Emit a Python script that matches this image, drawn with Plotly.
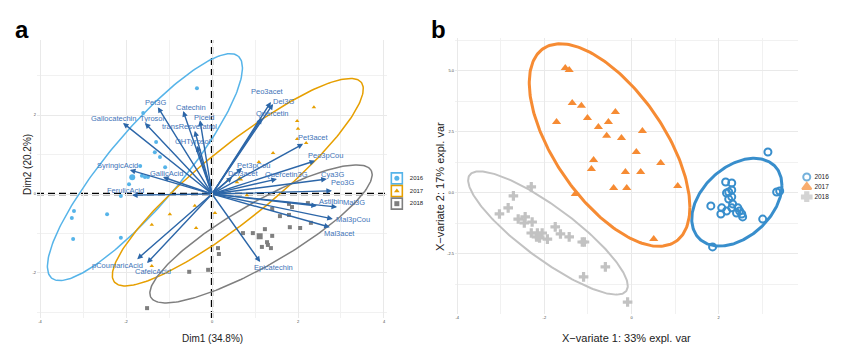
import numpy as np
import plotly.graph_objects as go

# ---------------- data : panel a (PCA biplot) ----------------
years = ["2016", "2017", "2018"]

a2016_x = [-0.35, -1.60, -1.30, -1.21, -1.33, -1.67, -1.63, -1.56, -1.49, -1.09, -1.93, -2.12, -3.21, -3.26, -2.44, -3.23, -2.12]
a2016_y = [2.68, 2.05, 1.32, 0.94, 1.06, 0.71, 0.46, 0.43, 0.43, 0.68, 0.25, -0.05, -0.43, -0.61, -0.51, -1.14, -1.11]

a2017_x = [2.37, 1.98, 2.00, 1.98, 2.19, 1.42, 1.09, 0.58, 0.37, 0.81, 0.07, -0.40, -0.98, -1.40, -0.37, -1.40]
a2017_y = [2.20, 1.85, 1.65, 1.39, 1.29, 1.04, 0.81, 0.30, 0.35, -0.03, -0.48, -0.30, -0.51, -0.78, -0.86, -1.82]

a2018_x = [1.79, 1.86, 2.23, 1.40, 1.58, 1.79, 0.72, 0.95, 1.40, 1.23, 1.28, 1.30, 1.16, 1.37, 1.81, 2.05, 2.30, 0.14, 0.16, -0.09, -0.53, -1.51]
a2018_y = [-0.25, -0.33, -0.23, -0.38, -0.56, -0.53, -0.99, -0.99, -1.06, -0.89, -1.22, -1.29, -1.34, -1.37, -0.84, -0.86, -0.73, -1.37, -1.52, -1.92, -1.97, -2.89]

# concentration ellipses of panel a read from the picture:
# centre and two conjugate semi-diameters (data units)
ell_cx = [-1.56, 0.60, 1.14]
ell_cy = [0.68, 0.30, -1.01]
ell_ux = [2.17, 2.87, 2.56]
ell_uy = [2.81, 2.53, 1.61]
ell_vx = [-0.66, -0.53, -0.36]
ell_vy = [0.60, 0.71, 0.68]

var_names = ["Pet3G", "Catechin", "Piceid", "Gallocatechin", "Tyrosol", "transResveratrol", "OHTyrosol",
             "SyringicAcid", "GallicAcid", "FerulicAcid", "pCoumaricAcid", "CafeicAcid",
             "Peo3acet", "Del3G", "Quercetin", "Pet3acet", "Peo3pCou", "Pet3pCou", "Del3acet",
             "Quercetin3G", "Cya3G", "Peo3G", "Astilbin", "Mal3G", "Mal3pCou", "Mal3acet", "Epicatechin"]
var_x = [-1.26, -0.67, -0.28, -2.07, -1.56, -0.40, -0.35,
         -1.91, -1.14, -1.86, -1.74, -1.51,
         1.37, 1.42, 1.16, 2.12, 2.40, 0.70, 0.47,
         1.51, 2.67, 2.79, 2.44, 2.91, 2.81, 2.74, 1.12]
var_y = [2.20, 2.10, 1.87, 1.80, 1.80, 1.60, 1.22,
         0.61, 0.43, -0.03, -1.65, -1.75,
         2.33, 2.28, 1.92, 1.27, 0.84, 0.66, 0.43,
         0.38, 0.38, 0.08, -0.30, -0.33, -0.63, -0.84, -1.72]
# label nudges (pixels) relative to arrow tips
label_dx = [-2, 8, 4, -10, 8, -5, -4, -12, 4, -7, -20, 6, -3, 10, 11, 10, 10, 11, 11, 10, 6, 11, 14, 17, 20, 10, 13]
label_dy = [5, 4, 3, 4, 4, 4, 4, 4, 4, 5, -6, -8, 11, 2, 5, 6, 5, 2, 4, 5, 5, 8, 4, 5, -1, -6, -6]

a_xticks = [-4, -2, 0, 2, 4]
a_yticks = [-2, 0, 2]

# ---------------- data : panel b (PLS-DA individuals) ----------------
b2016_x = [3.13, 2.16, 2.30, 2.18, 2.23, 2.30, 2.30, 2.23, 1.82, 2.07, 2.32, 2.18, 2.05, 2.30, 2.44, 2.48, 2.41, 2.53, 2.55, 3.01, 3.33, 3.40, 1.86]
b2016_y = [1.68, 0.45, 0.41, 0.00, 0.04, 0.12, -0.16, -0.25, -0.53, -0.61, -0.45, -0.74, -0.86, -0.61, -0.61, -0.74, -0.82, -0.86, -0.98, -1.07, 0.04, 0.08, -2.21]

b2017_x = [-1.52, -1.43, -1.36, -1.15, -1.01, -0.37, -1.72, -0.76, -0.53, -0.57, -0.23, 0.25, 0.11, -0.87, -0.92, -0.14, 0.21, -0.41, -0.11, -1.29, 0.67, 1.06, 0.51]
b2017_y = [5.12, 5.04, 3.69, 3.57, 3.07, 3.32, 2.91, 2.70, 2.91, 2.34, 2.25, 2.54, 1.68, 1.35, 0.98, 0.86, 0.86, 0.20, 0.20, -0.04, 1.23, 0.29, -1.89]

b2018_x = [-2.30, -2.71, -2.83, -3.03, -2.60, -2.44, -2.28, -2.46, -2.30, -2.16, -2.05, -2.18, -2.11, -1.93, -1.75, -1.63, -1.43, -1.13, -1.08, -0.60, -1.10, -0.09]
b2018_y = [0.25, -0.12, -0.61, -0.86, -1.07, -0.98, -1.19, -1.23, -1.64, -1.64, -1.64, -1.80, -1.84, -1.89, -1.39, -1.68, -1.80, -2.01, -2.01, -3.03, -3.44, -4.47]

b_xticks = [-4, -2, 0, 2]
b_yticks = [-2.5, 0.0, 2.5, 5.0]

# ---------------- styles ----------------
FONT = "Liberation Sans, Arial, Helvetica, sans-serif"
cols_a = ["#56B4E9", "#E69F00", "#7F7F7F"]
sym_a = ["circle", "triangle-up", "square"]
cols_b = ["#388ECC", "#F68B33", "#C2C2C2"]
ARROW = "#2C66A8"
LABEL = "#4274B8"
GRID = "#E9E9E9"
GRID_MINOR = "#F1F1F1"
W, H = 850, 358
OFF = 8  # page body margin


def px(xp):
    return (xp - OFF) / W


def py(yp):
    return 1 - (yp - OFF) / H


def ellipse_mvn(x, y, radius, n=240):
    x = np.asarray(x, float)
    y = np.asarray(y, float)
    L = np.linalg.cholesky(np.cov(x, y))
    t = np.linspace(0, 2 * np.pi, n)
    e = radius * (L @ np.vstack([np.cos(t), np.sin(t)]))
    return x.mean() + e[0], y.mean() + e[1]


def ellipse_conj(cx, cy, ux, uy, vx, vy, n=240):
    t = np.linspace(0, 2 * np.pi, n)
    return cx + ux * np.cos(t) + vx * np.sin(t), cy + uy * np.cos(t) + vy * np.sin(t)


fig = go.Figure()

groups_a = [(a2016_x, a2016_y), (a2017_x, a2017_y), (a2018_x, a2018_y)]
groups_b = [(b2016_x, b2016_y), (b2017_x, b2017_y), (b2018_x, b2018_y)]

# panel a ellipses
for i, c in enumerate(cols_a):
    ex, ey = ellipse_conj(ell_cx[i], ell_cy[i], ell_ux[i], ell_uy[i], ell_vx[i], ell_vy[i])
    fig.add_trace(go.Scatter(x=ex, y=ey, mode="lines", line=dict(color=c, width=1.5),
                             xaxis="x", yaxis="y", showlegend=False, hoverinfo="skip"))
# panel a points
for (gx, gy), c, s in zip(groups_a, cols_a, sym_a):
    fig.add_trace(go.Scatter(x=gx, y=gy, mode="markers", marker=dict(color=c, symbol=s, size=4),
                             xaxis="x", yaxis="y", showlegend=False))
    fig.add_trace(go.Scatter(x=[np.mean(gx)], y=[np.mean(gy)], mode="markers",
                             marker=dict(color=c, symbol=s, size=6),
                             xaxis="x", yaxis="y", showlegend=False))

annotations = []
shapes = []
# arrows
for vx, vy in zip(var_x, var_y):
    annotations.append(dict(x=vx, y=vy, ax=0, ay=0, xref="x", yref="y", axref="x", ayref="y",
                            text="", showarrow=True, arrowhead=2, arrowsize=0.8, arrowwidth=1.4,
                            arrowcolor=ARROW, standoff=0))
for name, vx, vy, dx, dy in zip(var_names, var_x, var_y, label_dx, label_dy):
    annotations.append(dict(x=vx, y=vy, xref="x", yref="y", text=name, showarrow=False,
                            xanchor="center", yanchor="middle",
                            xshift=dx, yshift=dy, font=dict(family=FONT, size=7.5, color=LABEL)))

# dashed zero lines
shapes.append(dict(type="line", xref="x", yref="y domain", x0=0, x1=0, y0=0, y1=1,
                   line=dict(color="black", width=2.3, dash="7px,4px"), layer="below"))
shapes.append(dict(type="line", xref="x domain", yref="y", x0=0, x1=1, y0=0, y1=0,
                   line=dict(color="black", width=2.3, dash="7px,4px"), layer="below"))

# panel b ellipses (95% normal ellipses) and points
for (gx, gy), c, lw in zip(groups_b, cols_b, [3, 3, 2]):
    ex, ey = ellipse_mvn(gx, gy, np.sqrt(-2 * np.log(0.05)))
    fig.add_trace(go.Scatter(x=ex, y=ey, mode="lines", line=dict(color=c, width=lw),
                             xaxis="x2", yaxis="y2", showlegend=False, hoverinfo="skip"))
fig.add_trace(go.Scatter(x=b2018_x, y=b2018_y, mode="markers",
                         marker=dict(color=cols_b[2], symbol="cross", size=8),
                         xaxis="x2", yaxis="y2", showlegend=False))
fig.add_trace(go.Scatter(x=b2017_x, y=b2017_y, mode="markers",
                         marker=dict(color=cols_b[1], symbol="triangle-up", size=8),
                         xaxis="x2", yaxis="y2", showlegend=False))
fig.add_trace(go.Scatter(x=b2016_x, y=b2016_y, mode="markers",
                         marker=dict(color=cols_b[0], symbol="circle-open", size=7, line=dict(width=2)),
                         xaxis="x2", yaxis="y2", showlegend=False))

# legend a (own axes)
rows = [2.5, 1.5, 0.5]
fig.add_trace(go.Scatter(x=[0.17] * 3, y=rows, mode="markers",
                         marker=dict(symbol="square", size=11, color="white",
                                     line=dict(color=cols_a, width=1.6)),
                         xaxis="x3", yaxis="y3", showlegend=False, hoverinfo="skip"))
fig.add_trace(go.Scatter(x=[0.17] * 3, y=rows, mode="markers",
                         marker=dict(symbol=sym_a, size=5, color=cols_a),
                         xaxis="x3", yaxis="y3", showlegend=False, hoverinfo="skip"))
fig.add_trace(go.Scatter(x=[0.42] * 3, y=rows, mode="text", text=years, textposition="middle right",
                         textfont=dict(family=FONT, size=6, color="#222"),
                         xaxis="x3", yaxis="y3", showlegend=False, hoverinfo="skip"))
# legend b
fig.add_trace(go.Scatter(x=[0.15] * 3, y=rows, mode="markers",
                         marker=dict(symbol=["circle-open", "triangle-up", "cross"], size=[7, 8, 8],
                                     color=cols_b, line=dict(width=2, color=cols_b)),
                         xaxis="x4", yaxis="y4", showlegend=False, hoverinfo="skip"))
fig.add_trace(go.Scatter(x=[0.32] * 3, y=rows, mode="text", text=years, textposition="middle right",
                         textfont=dict(family=FONT, size=6.5, color="#222"),
                         xaxis="x4", yaxis="y4", showlegend=False, hoverinfo="skip"))

tickfont = dict(family=FONT, size=4, color="#444")
axis_common = dict(showline=False, zeroline=False, showgrid=True, gridcolor=GRID, gridwidth=1,
                   ticks="", tickfont=tickfont)

fig.update_layout(
    width=W, height=H, margin=dict(l=0, r=0, t=0, b=0),
    paper_bgcolor="white", plot_bgcolor="white", showlegend=False,
    xaxis=dict(domain=[px(37), px(387)], range=[-4.07, 4.07], tickvals=a_xticks, ticktext=[str(v) for v in a_xticks],
               minor=dict(dtick=1, tick0=1, showgrid=True, gridcolor=GRID_MINOR, gridwidth=0.6), anchor="y",
               **axis_common),
    yaxis=dict(domain=[py(318), py(40)], range=[-3.14, 3.90], tickvals=a_yticks, ticktext=[str(v) for v in a_yticks],
               minor=dict(dtick=1, tick0=1, showgrid=True, gridcolor=GRID_MINOR, gridwidth=0.6), anchor="x",
               **axis_common),
    xaxis2=dict(domain=[px(455), px(798)], range=[-4.05, 3.82], tickvals=b_xticks, ticktext=[str(v) for v in b_xticks],
                minor=dict(dtick=1, tick0=1, showgrid=True, gridcolor=GRID_MINOR, gridwidth=0.6), anchor="y2",
                **axis_common),
    yaxis2=dict(domain=[py(314), py(38)], range=[-4.96, 6.35], tickvals=b_yticks,
                ticktext=["%.1f" % v for v in b_yticks],
                minor=dict(dtick=1.25, tick0=1.25, showgrid=True, gridcolor=GRID_MINOR, gridwidth=0.6), anchor="x2",
                **axis_common),
    xaxis3=dict(domain=[px(388), px(440)], range=[0, 1], visible=False, anchor="y3"),
    yaxis3=dict(domain=[py(210), py(172)], range=[0, 3], visible=False, anchor="x3"),
    xaxis4=dict(domain=[px(800), px(845)], range=[0, 1], visible=False, anchor="y4"),
    yaxis4=dict(domain=[py(202), py(172)], range=[0, 3], visible=False, anchor="x4"),
    shapes=shapes,
)

annotations += [
    dict(x=px(22), y=py(29.6), xref="paper", yref="paper", text="<b>a</b>", showarrow=False,
         xanchor="center", yanchor="middle", font=dict(family=FONT, size=24, color="black")),
    dict(x=px(438), y=py(29.6), xref="paper", yref="paper", text="<b>b</b>", showarrow=False,
         xanchor="center", yanchor="middle", font=dict(family=FONT, size=24, color="black")),
    dict(x=px(212), y=py(338), xref="paper", yref="paper", text="Dim1 (34.8%)", showarrow=False,
         xanchor="center", yanchor="middle", font=dict(family=FONT, size=10, color="#222")),
    dict(x=px(27), y=py(165), xref="paper", yref="paper", text="Dim2 (20.2%)", showarrow=False, textangle=-90,
         xanchor="center", yanchor="middle", font=dict(family=FONT, size=10, color="#222")),
    dict(x=px(626), y=py(338), xref="paper", yref="paper", text="X\u2212variate 1: 33% expl. var", showarrow=False,
         xanchor="center", yanchor="middle", font=dict(family=FONT, size=11, color="#222")),
    dict(x=px(440), y=py(186), xref="paper", yref="paper", text="X\u2212variate 2: 17% expl. var", showarrow=False,
         textangle=-90, xanchor="center", yanchor="middle", font=dict(family=FONT, size=11, color="#222")),
]
fig.update_layout(annotations=annotations)

fig.write_html("out.html")
